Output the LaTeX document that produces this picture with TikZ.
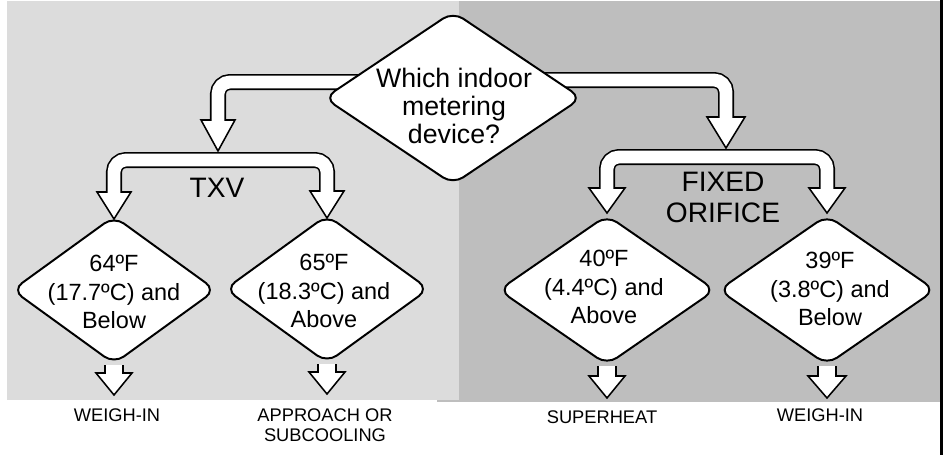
\documentclass[tikz,border=0pt]{standalone}
\usepackage{fontspec}
\setmainfont{Liberation Sans}
\usetikzlibrary{shapes.geometric, calc, backgrounds}
\pgfdeclarelayer{pipes}
\pgfsetlayers{background,pipes,main}
\definecolor{panelL}{HTML}{DCDCDC}
\definecolor{panelR}{HTML}{BEBEBE}

\begin{document}
\begin{tikzpicture}[
    x=0.025cm, y=-0.025cm,
    dia/.style={draw, diamond, fill=white, line width=1.4pt, rounded corners=0.3cm, inner sep=0pt, minimum width=5.1cm, minimum height=3.7cm},
    diaR/.style={dia, minimum width=5.425cm, minimum height=3.75cm},
    qtxt/.style={align=center, font=\fontsize{19}{20}\selectfont},
    dtxt/.style={align=center, font=\fontsize{16.7}{20.5}\selectfont},
    cat/.style={align=center, font=\fontsize{20}{22}\selectfont},
    res/.style={align=center, font=\fontsize{13}{14.2}\selectfont},
    pipeo/.style={draw=black, line width=0.4cm, rounded corners=0.3cm},
    pipei/.style={draw=white, line width=0.32cm, rounded corners=0.3cm},
    stubo/.style={draw=black, line width=0.48cm},
    stubi/.style={draw=white, line width=0.4cm},
    pics/head/.style n args={2}{code={\draw[fill=white, line width=1.1pt] (-#1,-#2) -- (#1,-#2) -- (0,0) -- cycle;}},
  ]
    \useasboundingbox (0,0) rectangle (943,455);
    % ===== 背景 =====
    \begin{pgfonlayer}{background}
      \fill[panelR] (437,1) rectangle (940,402);
      \fill[panelL] (7,1) rectangle (459,400);
      \fill[black] (940,0) rectangle (942.5,455);
    \end{pgfonlayer}
    % ===== 判断（ひし形）=====
    \node[dia, minimum width=6.45cm, minimum height=4.325cm] (Q) at (453,98) {};
    \node[qtxt] (Qt) at (454,106) {Which indoor\\metering\\device?};
    \node[dia]  (D1) at (114,290) {};
    \node[dtxt] (D1t) at (114,292) {64ºF\\(17.7ºC) and\\Below};
    \node[dia]  (D2) at (327,289) {};
    \node[dtxt] (D2t) at (324,291) {65ºF\\(18.3ºC) and\\Above};
    \node[diaR] (D3) at (607,290) {};
    \node[dtxt] (D3t) at (604,287) {40ºF\\(4.4ºC) and\\Above};
    \node[diaR] (D4) at (827,290) {};
    \node[dtxt] (D4t) at (830,289) {39ºF\\(3.8ºC) and\\Below};
    % ===== 分類ラベル・結果 =====
    \node[cat] (txv)   at (217,188) {TXV};
    \node[cat] (fixed) at (723,197) {FIXED\\ORIFICE};
    \node[res] (r1) at (117,415) {WEIGH-IN};
    \node[res] (r2) at (325,425) {APPROACH OR\\SUBCOOLING};
    \node[res] (r3) at (602,417) {SUPERHEAT};
    \node[res] (r4) at (820,415) {WEIGH-IN};
    \node[res, anchor=east] (cut) at (3,395) {e};
    \coordinate (jL) at (218,151);   % TXV 分岐
    \coordinate (jR) at (726,148);   % FIXED ORIFICE 分岐

    \begin{pgfonlayer}{pipes}
      % ===== 1段目（Q→左右）=====
      \draw[pipeo] ($(Q)+(0,-16)$) -| ($(jL)+(0,-29)$);
      \pic at (jL) {head={17}{31}};
      \draw[pipei] ($(Q)+(0,-16)$) -| ($(jL)+(0,-29)$);
      \draw[pipeo] ($(Q)+(0,-18)$) -| ($(jR)+(0,-29)$);
      \pic at (jR) {head={19}{31}};
      \draw[pipei] ($(Q)+(0,-18)$) -| ($(jR)+(0,-29)$);
      % ===== 2段目（分岐バー）=====
      \draw[pipeo] ($(D1.north)+(0,-21)$) |- ($(jL)+(0,9)$) -| ($(D2.north)+(0,-21)$);
      \pic at ($(D1.north)+(0,4)$) {head={17}{27}};
      \pic at ($(D2.north)+(0,4)$) {head={17}{27}};
      \draw[pipei] ($(D1.north)+(0,-21)$) |- ($(jL)+(0,9)$) -| ($(D2.north)+(0,-21)$);
      \draw[pipeo] ($(D3.north)+(0,-24)$) |- ($(jR)+(0,9)$) -| ($(D4.north)+(0,-24)$);
      \pic at ($(D3.north)+(0,-1)$) {head={18}{25}};
      \pic at ($(D4.north)+(0,-1)$) {head={18}{25}};
      \draw[pipei] ($(D3.north)+(0,-24)$) |- ($(jR)+(0,9)$) -| ($(D4.north)+(0,-24)$);
      % ===== 結果への短い矢印 =====
      \draw[stubo] (D1) -- ($(D1.south)+(0,10)$);
      \pic at ($(D1.south)+(0,30)$) {head={18}{22}};
      \draw[stubi] (D1) -- ($(D1.south)+(0,10)$);
      \draw[stubo] (D2) -- ($(D2.south)+(0,10)$);
      \pic at ($(D2.south)+(0,30)$) {head={18}{22}};
      \draw[stubi] (D2) -- ($(D2.south)+(0,10)$);
      \draw[stubo] (D3) -- ($(D3.south)+(0,12)$);
      \pic at ($(D3.south)+(0,32)$) {head={18}{22}};
      \draw[stubi] (D3) -- ($(D3.south)+(0,12)$);
      \draw[stubo] (D4) -- ($(D4.south)+(0,12)$);
      \pic at ($(D4.south)+(0,32)$) {head={19}{22}};
      \draw[stubi] (D4) -- ($(D4.south)+(0,12)$);
    \end{pgfonlayer}
  \end{tikzpicture}
\end{document}
